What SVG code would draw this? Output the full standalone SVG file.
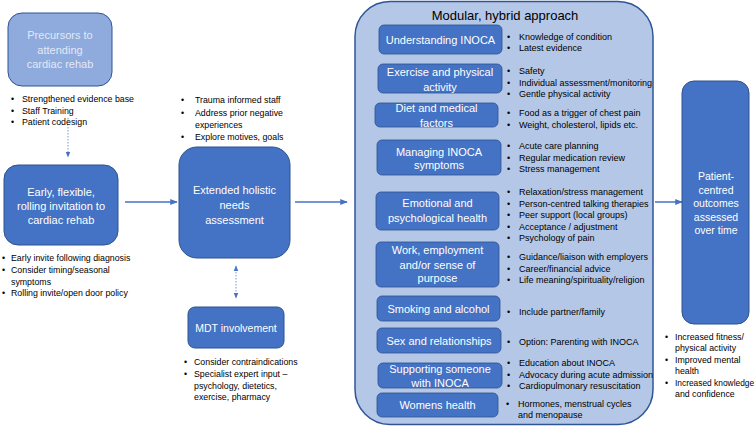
<svg xmlns="http://www.w3.org/2000/svg" width="756" height="427" viewBox="0 0 756 427">
<style>
text{font-family:"Liberation Sans",Arial,sans-serif}
.dark{fill:#4472c4;stroke:#2f528f;stroke-width:1}
.inner{fill:#4472c4;stroke:#2f528f;stroke-width:0.8}
.lbl{fill:#ffffff;font-size:11px;text-anchor:middle}
.lt{fill:#e2e9f6}
.blt{fill:#000000;font-size:8.8px}
.pb{fill:#000000;font-size:9px}
.arr{stroke:#4472c4;stroke-width:1.5;fill:none}
.dot{stroke:#8faadc;stroke-width:1.2;stroke-dasharray:1.5 1.5;fill:none}
</style>
<defs>
<marker id="ah" viewBox="0 0 10 10" refX="9" refY="5" markerWidth="5" markerHeight="5" orient="auto">
<path d="M0,1 L10,5 L0,9 z" fill="#4472c4"/>
</marker>
<marker id="ahd" viewBox="0 0 10 10" refX="9" refY="5" markerWidth="5" markerHeight="5" orient="auto-start-reverse">
<path d="M0,1 L10,5 L0,9 z" fill="#4472c4"/>
</marker>
</defs>
<rect width="756" height="427" fill="#ffffff"/>

<g id="connectors">
<line class="dot" x1="68" y1="118" x2="68" y2="157" marker-end="url(#ahd)"/>
<line class="arr" x1="125" y1="202" x2="177" y2="202" marker-end="url(#ah)"/>
<line class="arr" x1="295" y1="202" x2="347" y2="202" marker-end="url(#ah)"/>
<line class="dot" x1="236" y1="266" x2="236" y2="298" marker-start="url(#ahd)" marker-end="url(#ahd)"/>
<line class="arr" x1="655" y1="202" x2="682" y2="202" marker-end="url(#ah)"/>
</g>

<g id="precursors">
<rect x="8" y="13" width="104" height="73" rx="14" fill="#8faadc" stroke="#2f5597" stroke-width="1"/>
<text class="lbl lt" x="60" y="39">Precursors to</text>
<text class="lbl lt" x="60" y="54">attending</text>
<text class="lbl lt" x="60" y="68">cardiac rehab</text>
<text class="blt" x="11" y="102">•</text><text class="blt" x="22" y="102">Strengthened evidence base</text>
<text class="blt" x="11" y="113.5">•</text><text class="blt" x="22" y="113.5">Staff Training</text>
<text class="blt" x="11" y="125">•</text><text class="blt" x="22" y="125">Patient codesign</text>
</g>

<g id="early">
<rect class="dark" x="4" y="165" width="114" height="80" rx="14"/>
<text class="lbl" x="61" y="196">Early, flexible,</text>
<text class="lbl" x="61" y="210">rolling invitation to</text>
<text class="lbl" x="61" y="224">cardiac rehab</text>
<text class="blt" x="2" y="261">•</text><text class="blt" x="11" y="261">Early invite following diagnosis</text>
<text class="blt" x="2" y="272.5">•</text><text class="blt" x="11" y="272.5">Consider timing/seasonal</text>
<text class="blt" x="11" y="284.5">symptoms</text>
<text class="blt" x="2" y="296">•</text><text class="blt" x="11" y="296">Rolling invite/open door policy</text>
</g>

<g id="extended">
<rect class="dark" x="179" y="147" width="111" height="111" rx="18"/>
<text class="lbl" x="234.5" y="194">Extended holistic</text>
<text class="lbl" x="234.5" y="209">needs</text>
<text class="lbl" x="234.5" y="224">assessment</text>
<text class="blt" x="181" y="103">•</text><text class="blt" x="195" y="103">Trauma informed staff</text>
<text class="blt" x="181" y="116">•</text><text class="blt" x="195" y="116">Address prior negative</text>
<text class="blt" x="195" y="128">experiences</text>
<text class="blt" x="181" y="140">•</text><text class="blt" x="195" y="140">Explore motives, goals</text>
</g>

<g id="mdt">
<rect class="dark" x="188" y="307" width="96" height="41" rx="7"/>
<text class="lbl" x="236" y="332" style="font-size:10.5px">MDT involvement</text>
<text class="blt" x="184" y="365">•</text><text class="blt" x="194" y="365">Consider contraindications</text>
<text class="blt" x="184" y="376.5">•</text><text class="blt" x="194" y="376.5">Specialist expert input –</text>
<text class="blt" x="194" y="389">psychology, dietetics,</text>
<text class="blt" x="194" y="400">exercise, pharmacy</text>
</g>

<g id="modular">
<rect x="355" y="1.5" width="298" height="423" rx="35" fill="#b4c7e7" stroke="#2f5597" stroke-width="1.5"/>
<text x="505" y="19.5" style="font-size:13px;text-anchor:middle;fill:#000">Modular, hybrid approach</text>
</g>

<g id="understanding">
<rect class="inner" x="379" y="25" width="123" height="29" rx="5"/>
<text class="lbl" x="440.5" y="44">Understanding INOCA</text>
<text class="pb" x="507" y="40">•</text><text class="pb" x="519" y="40">Knowledge of condition</text>
<text class="pb" x="507" y="51">•</text><text class="pb" x="519" y="51">Latest evidence</text>
</g>

<g id="exercise">
<rect class="inner" x="378" y="64" width="124" height="29" rx="5"/>
<text class="lbl" x="440" y="76">Exercise and physical</text>
<text class="lbl" x="440" y="91">activity</text>
<text class="pb" x="507" y="74">•</text><text class="pb" x="519" y="74">Safety</text>
<text class="pb" x="507" y="85.5">•</text><text class="pb" x="519" y="85.5">Individual assessment/monitoring</text>
<text class="pb" x="507" y="97">•</text><text class="pb" x="519" y="97">Gentle physical activity</text>
</g>

<g id="diet">
<rect class="inner" x="375" y="103" width="123" height="24" rx="5"/>
<text class="lbl" x="436.5" y="112">Diet and medical</text>
<text class="lbl" x="436.5" y="127">factors</text>
<text class="pb" x="507" y="116">•</text><text class="pb" x="519" y="116">Food as a trigger of chest pain</text>
<text class="pb" x="507" y="128">•</text><text class="pb" x="519" y="128">Weight, cholesterol, lipids etc.</text>
</g>

<g id="managing">
<rect class="inner" x="377" y="140" width="124" height="35" rx="5"/>
<text class="lbl" x="439" y="156">Managing INOCA</text>
<text class="lbl" x="439" y="169">symptoms</text>
<text class="pb" x="507" y="149">•</text><text class="pb" x="519" y="149">Acute care planning</text>
<text class="pb" x="507" y="160.5">•</text><text class="pb" x="519" y="160.5">Regular medication review</text>
<text class="pb" x="507" y="172">•</text><text class="pb" x="519" y="172">Stress management</text>
</g>

<g id="emotional">
<rect class="inner" x="376" y="192" width="123" height="38" rx="5"/>
<text class="lbl" x="437.5" y="207">Emotional and</text>
<text class="lbl" x="437.5" y="222">psychological health</text>
<text class="pb" x="507" y="195">•</text><text class="pb" x="519" y="195">Relaxation/stress management</text>
<text class="pb" x="507" y="206.5">•</text><text class="pb" x="519" y="206.5">Person-centred talking therapies</text>
<text class="pb" x="507" y="218">•</text><text class="pb" x="519" y="218">Peer support (local groups)</text>
<text class="pb" x="507" y="229.5">•</text><text class="pb" x="519" y="229.5">Acceptance / adjustment</text>
<text class="pb" x="507" y="241">•</text><text class="pb" x="519" y="241">Psychology of pain</text>
</g>

<g id="work">
<rect class="inner" x="376" y="242" width="123" height="45" rx="5"/>
<text class="lbl" x="437.5" y="254">Work, employment</text>
<text class="lbl" x="437.5" y="268.5">and/or sense of</text>
<text class="lbl" x="437.5" y="282">purpose</text>
<text class="pb" x="507" y="260">•</text><text class="pb" x="519" y="260">Guidance/liaison with employers</text>
<text class="pb" x="507" y="271.5">•</text><text class="pb" x="519" y="271.5">Career/financial advice</text>
<text class="pb" x="507" y="283">•</text><text class="pb" x="519" y="283">Life meaning/spirituality/religion</text>
</g>

<g id="smoking">
<rect class="inner" x="377" y="296" width="123" height="25" rx="5"/>
<text class="lbl" x="438.5" y="313">Smoking and alcohol</text>
<text class="pb" x="507" y="315">•</text><text class="pb" x="519" y="315">Include partner/family</text>
</g>

<g id="sex">
<rect class="inner" x="377" y="328" width="124" height="25" rx="5"/>
<text class="lbl" x="439" y="345">Sex and relationships</text>
<text class="pb" x="507" y="345">•</text><text class="pb" x="519" y="345">Option: Parenting with INOCA</text>
</g>

<g id="supporting">
<rect class="inner" x="378" y="363" width="124" height="25" rx="5"/>
<text class="lbl" x="440" y="373">Supporting someone</text>
<text class="lbl" x="440" y="387">with INOCA</text>
<text class="pb" x="507" y="366">•</text><text class="pb" x="519" y="366">Education about INOCA</text>
<text class="pb" x="507" y="377.5">•</text><text class="pb" x="519" y="377.5">Advocacy during acute admission</text>
<text class="pb" x="507" y="389">•</text><text class="pb" x="519" y="389">Cardiopulmonary resuscitation</text>
</g>

<g id="womens">
<rect class="inner" x="377" y="393" width="121" height="24" rx="5"/>
<text class="lbl" x="437.5" y="409">Womens health</text>
<text class="pb" x="506" y="407">•</text><text class="pb" x="518" y="407">Hormones, menstrual cycles</text>
<text class="pb" x="518" y="418">and menopause</text>
</g>

<g id="outcomes">
<rect class="dark" x="682" y="81" width="67" height="243" rx="12"/>
<text class="lbl" x="716" y="180" style="font-size:10.5px">Patient-</text>
<text class="lbl" x="716" y="193.5" style="font-size:10.5px">centred</text>
<text class="lbl" x="716" y="207" style="font-size:10.5px">outcomes</text>
<text class="lbl" x="716" y="220.5" style="font-size:10.5px">assessed</text>
<text class="lbl" x="716" y="234" style="font-size:10.5px">over time</text>
<text class="blt" x="665" y="340">•</text><text class="blt" x="675" y="340">Increased fitness/</text>
<text class="blt" x="675" y="351">physical activity</text>
<text class="blt" x="665" y="362.5">•</text><text class="blt" x="675" y="362.5">Improved mental</text>
<text class="blt" x="675" y="374">health</text>
<text class="blt" x="665" y="386">•</text><text class="blt" x="675" y="386" style="font-size:8.4px">Increased knowledge</text>
<text class="blt" x="675" y="397">and confidence</text>
</g>
</svg>
